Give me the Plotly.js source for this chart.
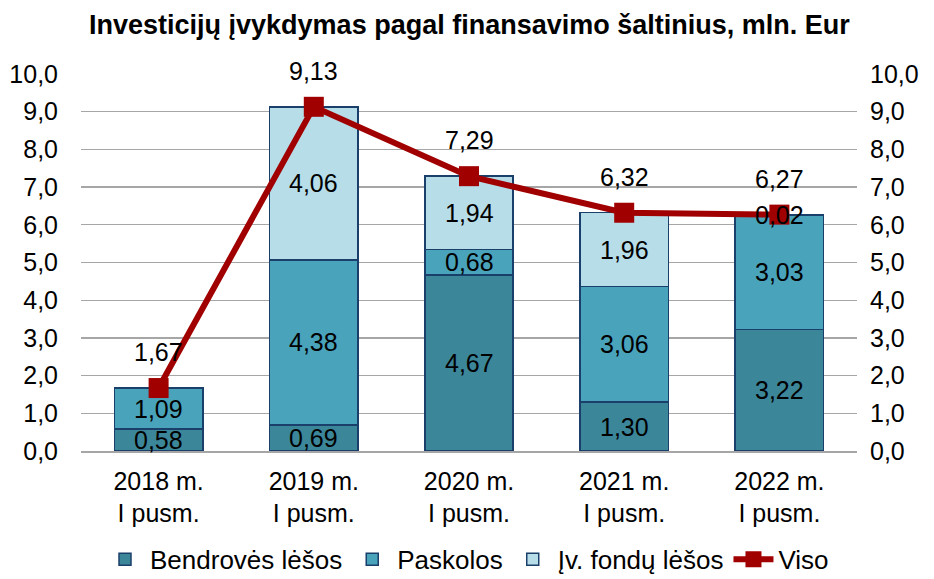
<!DOCTYPE html>
<html><head><meta charset="utf-8">
<script src="https://cdn.plot.ly/plotly-3.0.1.min.js"></script>
<style>html,body{margin:0;padding:0;background:#fff}#c{width:934px;height:579px}</style>
</head><body><div id="c"></div>
<script>
const categories = ["2018 m.<br>I pusm.", "2019 m.<br>I pusm.", "2020 m.<br>I pusm.", "2021 m.<br>I pusm.", "2022 m.<br>I pusm."];
const bendroves = [0.58, 0.69, 4.67, 1.30, 3.22];
const paskolos = [1.09, 4.38, 0.68, 3.06, 3.03];
const fondu = [0, 4.06, 1.94, 1.96, 0.02];
const viso = [1.67, 9.13, 7.29, 6.32, 6.27];
const seriesNames = ["Bendrovės lėšos", "Paskolos", "Įv. fondų lėšos", "Viso"];

const font = "Liberation Sans, Arial, sans-serif";
const fmt = v => v.toFixed(2).replace('.', ',');
const edge = {color: '#1B3F6B', width: 1.5};

function barTrace(vals, name, color) {
  return {
    type: 'bar', x: categories, y: vals, name: name,
    marker: {color: color, line: edge},
    hoverinfo: 'skip'
  };
}

const data = [
  barTrace(bendroves, seriesNames[0], '#3C8699'),
  barTrace(paskolos, seriesNames[1], '#49A3BB'),
  barTrace(fondu, seriesNames[2], '#B6DDE8'),
  {
    type: 'scatter', mode: 'lines+markers', x: categories, y: viso, name: seriesNames[3],
    yaxis: 'y2',
    line: {color: '#A00000', width: 6},
    marker: {symbol: 'square', size: 20, color: '#A00000'},
    hoverinfo: 'skip'
  }
];

const labelFont = {family: font, size: 25, color: '#000'};
const annotations = [];
// segment labels, centred in each stacked segment
[bendroves, paskolos, fondu].forEach((vals, s) => {
  vals.forEach((v, i) => {
    if (v <= 0) return;
    let base = 0;
    for (let k = 0; k < s; k++) base += [bendroves, paskolos, fondu][k][i];
    annotations.push({x: categories[i], y: base + v / 2, xref: 'x', yref: 'y', text: fmt(v),
      showarrow: false, font: labelFont});
  });
});
viso.forEach((v, i) => annotations.push({
  x: categories[i], y: v, xref: 'x', yref: 'y', text: fmt(v), showarrow: false,
  yshift: 36, font: labelFont
}));
annotations.push({
  xref: 'paper', yref: 'paper', x: 0.5, y: 1, yshift: 49, xanchor: 'center', yanchor: 'middle',
  text: '<b>Investicijų įvykdymas pagal finansavimo šaltinius, mln. Eur</b>', showarrow: false,
  font: {family: font, size: 27, color: '#000'}
});

const yax = {
  range: [0, 10], dtick: 1, tick0: 0, tickformat: '.1f', fixedrange: true,
  showgrid: true, gridcolor: '#A6A6A6', gridwidth: 1.3, zeroline: false,
  showline: false, ticks: '', tickfont: {family: font, size: 25, color: '#000'}
};

const layout = {
  width: 934, height: 579,
  margin: {l: 81, r: 77, t: 74, b: 128},
  paper_bgcolor: '#fff', plot_bgcolor: '#fff',
  separators: ', ',
  barmode: 'stack', bargap: 0.43,
  showlegend: true,
  legend: {orientation: 'h', x: 0.5, xanchor: 'center', xref: 'container', y: 0.034, yref: 'container', yanchor: 'middle',
    font: {family: font, size: 26, color: '#000'}, traceorder: 'normal', itemwidth: 40, tracegroupgap: 0},
  xaxis: {tickfont: {family: font, size: 25, color: '#000'}, showline: true, linecolor: '#A6A6A6',
    linewidth: 1.5, ticks: '', fixedrange: true, ticklabelstandoff: 7},
  yaxis: Object.assign({}, yax, {ticklabelstandoff: 22}),
  yaxis2: Object.assign({}, yax, {overlaying: 'y', side: 'right', showgrid: false, ticklabelstandoff: 12}),
  annotations: annotations
};

Plotly.newPlot('c', data, layout, {displayModeBar: false, staticPlot: true});
</script></body></html>
